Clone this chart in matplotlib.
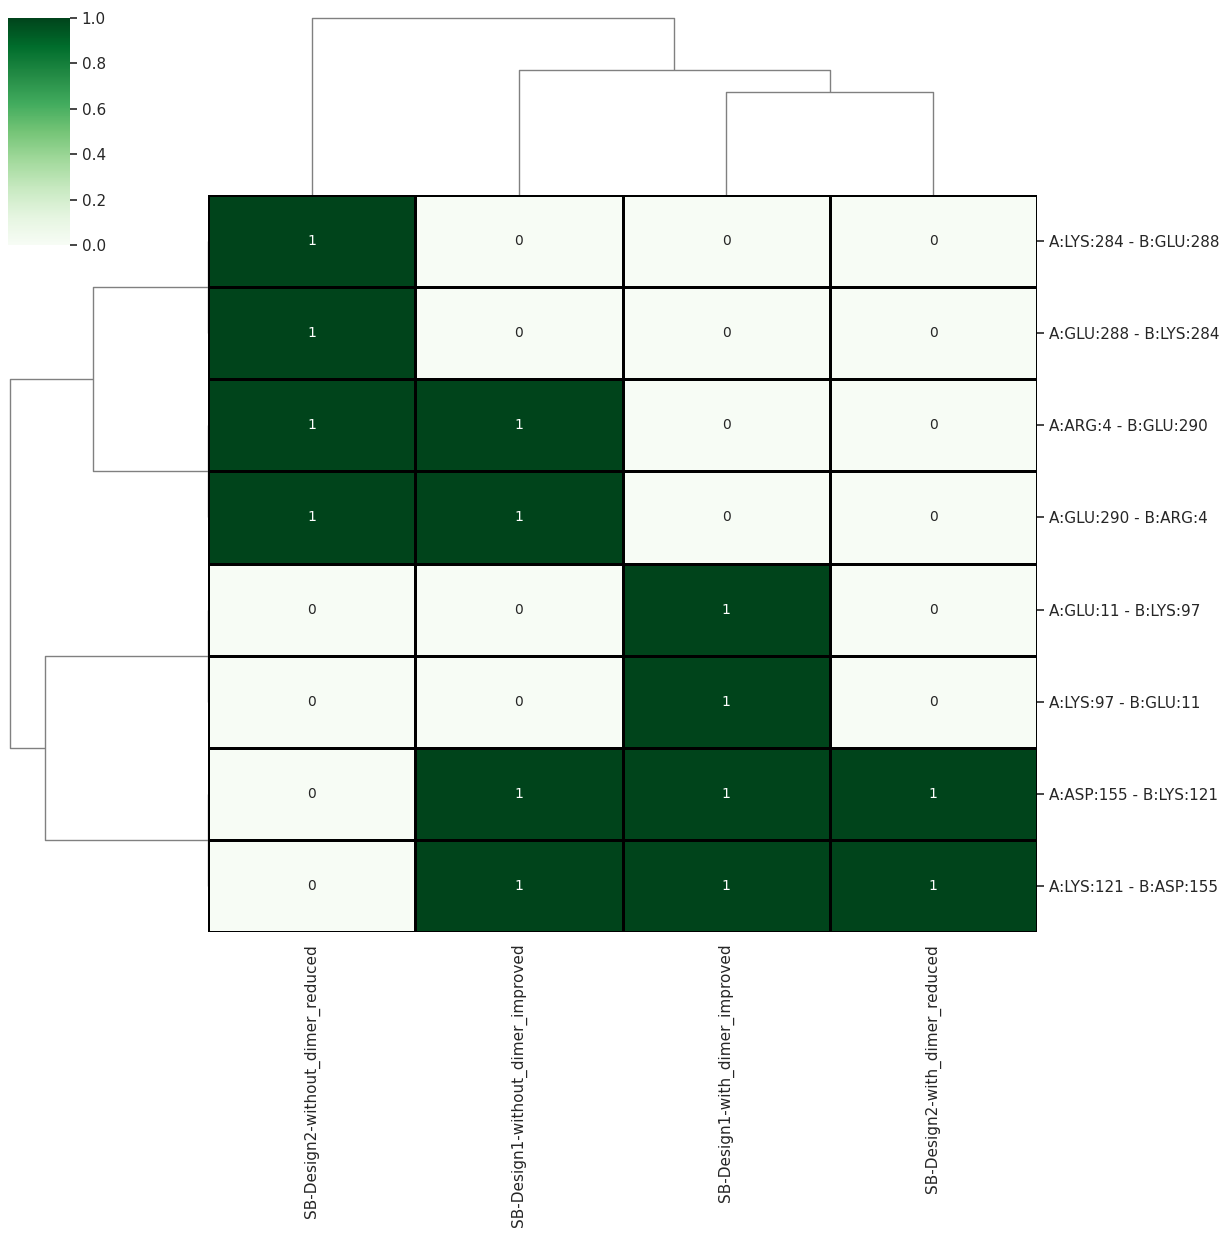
import numpy as np
import pandas as pd
import seaborn as sns
import matplotlib
matplotlib.use("Agg")
import matplotlib.pyplot as plt

# salt bridges found per design (1 = present, 0 = absent)
bridges = [
    "A:LYS:284 - B:GLU:288",
    "A:GLU:288 - B:LYS:284",
    "A:ARG:4 - B:GLU:290",
    "A:GLU:290 - B:ARG:4",
    "A:GLU:11 - B:LYS:97",
    "A:LYS:97 - B:GLU:11",
    "A:ASP:155 - B:LYS:121",
    "A:LYS:121 - B:ASP:155",
]
d2_without_reduced = [1, 1, 1, 1, 0, 0, 0, 0]
d1_without_improved = [0, 0, 1, 1, 0, 0, 1, 1]
d1_with_improved = [0, 0, 0, 0, 1, 1, 1, 1]
d2_with_reduced = [0, 0, 0, 0, 0, 0, 1, 1]

# column order as the designs were loaded; clustering reorders them
df = pd.DataFrame({
    "SB-Design1-with_dimer_improved": d1_with_improved,
    "SB-Design1-without_dimer_improved": d1_without_improved,
    "SB-Design2-with_dimer_reduced": d2_with_reduced,
    "SB-Design2-without_dimer_reduced": d2_without_reduced,
}, index=bridges)

sns.set_theme()
W, H = 1228, 1236
g = sns.clustermap(df, cmap="Greens", annot=True, linewidths=1,
                   linecolor="black", figsize=(W / 100, H / 100),
                   annot_kws={"fontsize": 10},
                   tree_kws={"linewidths": 1.0, "colors": "0.5"})

def px(x0, y0, x1, y1):
    # pixel box (top-left origin) -> figure fraction rect
    return [x0 / W, 1 - y1 / H, (x1 - x0) / W, (y1 - y0) / H]

g.ax_heatmap.set_position(px(208, 195, 1037, 932))
g.ax_row_dendrogram.set_position(px(0, 195, 208, 932))
g.ax_col_dendrogram.set_position(px(208, 9, 1037, 195))
g.ax_cbar.set_position(px(8, 18, 70, 245))

g.ax_heatmap.set_xlabel("")
g.ax_heatmap.set_ylabel("")
g.ax_heatmap.tick_params(axis="both", labelsize=11, length=5, width=1.2)
g.ax_cbar.tick_params(labelsize=11, length=5, width=1.2)

g.figure.savefig("out.png", dpi=100)
